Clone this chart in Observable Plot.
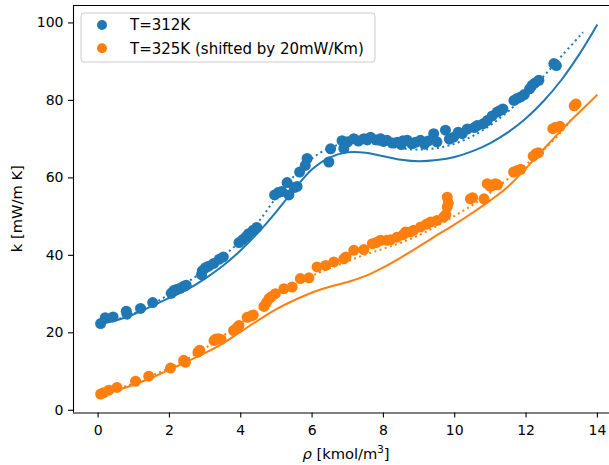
<!DOCTYPE html>
<html>
<head>
<meta charset="utf-8">
<script src="https://cdn.jsdelivr.net/npm/d3@7"></script>
<script src="https://cdn.jsdelivr.net/npm/@observablehq/plot@0.6"></script>
<style>
  html, body { margin: 0; padding: 0; background: white; }
  svg { display: block; }
</style>
</head>
<body>
<div id="chart"></div>
<script>
// ---------- data ----------
const seriesNames = ["T=312K", "T=325K (shifted by 20mW/Km)"];
const seriesColors = ["#1f77b4", "#ff7f0e"];
const xTicks = [0, 2, 4, 6, 8, 10, 12, 14];
const yTicks = [0, 20, 40, 60, 80, 100];

// measured points, T=312K
const blueRho = [0.07,0.2,0.42,0.81,0.79,1.19,1.53,2.05,2.12,2.2,2.3,2.4,2.47,2.9,2.92,3.01,3.1,3.24,3.4,3.51,
  3.95,4.05,4.15,4.22,4.35,4.45,4.95,5.05,5.15,5.3,5.35,5.5,5.58,5.65,5.81,5.86,6.47,6.52,6.84,6.89,
  7.0,7.17,7.3,7.45,7.55,7.64,7.8,7.92,8.0,8.1,8.25,8.39,8.5,8.55,8.67,8.8,8.9,9.04,9.15,9.25,
  9.41,9.5,9.74,9.85,9.97,10.1,10.21,10.35,10.55,10.63,10.8,10.91,11.05,11.19,11.28,11.35,11.66,11.75,11.85,11.95,
  12.1,12.17,12.25,12.36,12.78,12.85];
const blueK = [22.4,23.9,24.1,24.8,25.6,26.3,27.8,30.2,30.9,31.2,31.5,32.0,32.3,35.0,36.0,36.8,37.2,37.9,39.0,39.6,
  43.3,44.0,44.8,45.6,46.5,47.2,55.6,56.2,56.5,58.8,55.6,57.5,57.8,61.5,63.2,65.0,64.1,67.5,69.6,67.6,
  69.3,70.1,69.5,70.1,69.8,70.5,69.8,70.1,69.4,69.7,69.0,69.2,68.6,69.6,69.7,68.8,69.2,69.7,68.7,69.5,
  71.4,69.3,72.3,70.0,70.5,71.8,71.4,72.6,73.0,73.5,74.0,74.8,76.0,77.0,77.4,77.8,80.0,80.5,80.9,81.5,
  83.0,83.9,84.5,85.2,89.5,89.0];

// measured points, T=325K (shifted)
const orangeRho = [0.07,0.15,0.3,0.53,1.05,1.42,2.03,2.4,2.45,2.8,2.85,3.25,3.3,3.38,3.45,3.8,3.9,3.95,4.18,4.3,
  4.35,4.65,4.72,4.79,4.85,4.97,5.21,5.44,5.67,5.91,6.14,6.38,6.61,6.89,6.95,7.17,7.45,7.69,7.8,7.92,
  8.1,8.2,8.38,8.55,8.62,8.75,8.85,9.04,9.2,9.32,9.5,9.69,9.75,9.79,9.82,9.79,10.44,10.5,10.82,10.91,
  11.0,11.14,11.2,11.65,11.75,11.85,12.2,12.27,12.35,12.75,12.83,12.95,13.35,13.4];
const orangeK = [4.2,4.5,5.2,5.9,7.5,8.8,10.9,12.9,12.4,15.0,15.5,18.0,18.4,18.5,18.3,20.6,21.4,21.9,24.0,24.4,
  24.6,26.8,27.8,28.8,29.3,30.1,31.4,31.8,34.0,34.2,37.0,37.4,38.3,39.1,39.6,41.3,41.5,43.0,43.3,43.9,
  43.9,44.0,44.7,45.3,46.0,46.0,46.5,47.3,48.0,48.6,49.0,49.9,50.5,52.5,53.5,55.0,54.6,54.9,54.6,58.5,
  57.8,58.5,58.2,61.5,61.9,62.2,65.6,66.2,66.5,72.7,73.1,73.3,78.6,79.1];

// model curves
const solidRho = [0,0.5,1,1.5,2,2.5,3,3.5,4,4.5,5,5.5,6,6.5,7,7.5,8,8.5,9,9.5,10,10.5,11,11.5,12,12.5,13,13.5,14];
const blueSolid = [22.2,23.2,24.8,26.9,29.0,31.2,34.0,37.3,41.3,46.0,51.3,57.0,62.2,65.3,66.6,66.5,65.6,64.7,64.3,64.6,65.4,66.9,69.0,71.8,75.4,79.9,85.4,92.0,99.6];
const orangeSolid = [4.0,5.1,6.6,8.4,10.5,12.6,14.8,17.3,20.3,23.3,26.1,28.4,30.4,31.9,33.1,34.7,36.9,39.5,42.3,45.2,48.0,51.0,54.2,57.8,62.5,67.5,72.4,77.0,81.5];

const blueDotRho = [0,0.5,1,1.5,2,2.5,3,3.5,4,4.5,5,5.5,6,6.5,7,7.5,8,8.5,9,9.5,10,10.5,11,11.5,12,12.5,13,13.6];
const blueDotted = [22.4,23.4,25.0,27.3,30.0,33.0,36.3,39.8,43.7,48.7,55.0,60.5,65.0,67.8,68.9,69.0,68.4,67.6,67.3,67.7,68.8,70.8,73.6,77.2,81.5,86.3,91.5,97.6];
const orangeDotRho = [0,0.5,1,1.5,2,2.5,3,3.5,4,4.5,5,5.5,6,6.5,7,7.5,8,8.5,9,9.5,10,10.5,11,11.5,12,12.5,13,13.3];
const orangeDotted = [4.2,5.4,7.0,8.9,11.0,13.3,16.0,19.2,22.5,26.0,29.5,32.3,34.7,36.7,38.5,40.2,41.7,43.3,45.2,47.6,50.2,53.0,56.2,59.8,63.4,67.3,72.0,75.5];

// ---------- build tables ----------
const zip = (xs, ys) => xs.map((x, i) => ({x, y: ys[i]}));
const bluePts = zip(blueRho, blueK);
const orangePts = zip(orangeRho, orangeK);
const xDomain = [-0.69, 14.34];
const yDomain = [-0.7, 104.5];

const W = 609, H = 465, ML = 73, MT = 5, MB = 52.5, MR = 0;
const font = "DejaVu Sans";
const lineOpts = {x: "x", y: "y", strokeWidth: 2, strokeLinecap: "butt", strokeLinejoin: "round", curve: "catmull-rom"};
const dotted = {strokeDasharray: "2,3.4"};

const plot = Plot.plot({
  width: W, height: H,
  marginLeft: ML, marginRight: MR, marginTop: MT, marginBottom: MB,
  style: {fontFamily: font, fontSize: "14px", background: "white", color: "black", overflow: "visible"},
  x: {domain: xDomain, label: null},
  y: {domain: yDomain, label: null},
  marks: [
    Plot.line(zip(solidRho, blueSolid), {...lineOpts, stroke: seriesColors[0]}),
    Plot.line(zip(blueDotRho, blueDotted), {...lineOpts, ...dotted, stroke: seriesColors[0]}),
    Plot.line(zip(solidRho, orangeSolid), {...lineOpts, stroke: seriesColors[1]}),
    Plot.line(zip(orangeDotRho, orangeDotted), {...lineOpts, ...dotted, stroke: seriesColors[1]}),
    Plot.dot(bluePts, {x: "x", y: "y", r: 5.5, fill: seriesColors[0], stroke: null}),
    Plot.dot(orangePts, {x: "x", y: "y", r: 5.5, fill: seriesColors[1], stroke: null}),
    Plot.axisX({ticks: xTicks, tickSize: 5, tickPadding: 7, strokeWidth: 1.1, label: null, tickFormat: d => String(d)}),
    Plot.axisY({ticks: yTicks, tickSize: 5, tickPadding: 5, strokeWidth: 1.1, label: null, tickFormat: d => String(d)}),
    Plot.ruleX([xDomain[0]], {stroke: "black", strokeWidth: 1.1}),
    Plot.ruleY([yDomain[0]], {stroke: "black", strokeWidth: 1.1}),
    Plot.ruleY([yDomain[1]], {stroke: "black", strokeWidth: 1.1})
  ]
});

const svg = d3.select(plot);

// y label
svg.append("text")
  .attr("transform", `translate(22,${(MT + (H - MB)) / 2}) rotate(-90)`)
  .attr("text-anchor", "middle")
  .attr("font-family", font).attr("font-size", "14.7px").attr("fill", "black")
  .text("k [mW/m K]");

// x label
const xl = svg.append("text")
  .attr("x", 346).attr("y", 459)
  .attr("text-anchor", "middle")
  .attr("font-family", font).attr("font-size", "14.7px").attr("fill", "black");
xl.append("tspan").attr("font-style", "italic").text("ρ");
xl.append("tspan").text(" [kmol/m");
xl.append("tspan").attr("dy", -6).attr("font-size", "10.3px").text("3");
xl.append("tspan").attr("dy", 6).text("]");

// legend
const lg = svg.append("g");
lg.append("rect")
  .attr("x", 81).attr("y", 13).attr("width", 294).attr("height", 49)
  .attr("rx", 3).attr("fill", "white").attr("fill-opacity", 0.8)
  .attr("stroke", "#cccccc").attr("stroke-width", 1);
seriesNames.forEach((name, i) => {
  const cy = 25 + i * 23.3;
  lg.append("circle").attr("cx", 102).attr("cy", cy).attr("r", 5).attr("fill", seriesColors[i]);
  lg.append("text").attr("x", 130).attr("y", cy + 5.3)
    .attr("text-anchor", "start")
    .attr("font-family", font).attr("font-size", "15px").attr("fill", "black")
    .text(name);
});

document.getElementById("chart").appendChild(plot);
</script>
</body>
</html>
